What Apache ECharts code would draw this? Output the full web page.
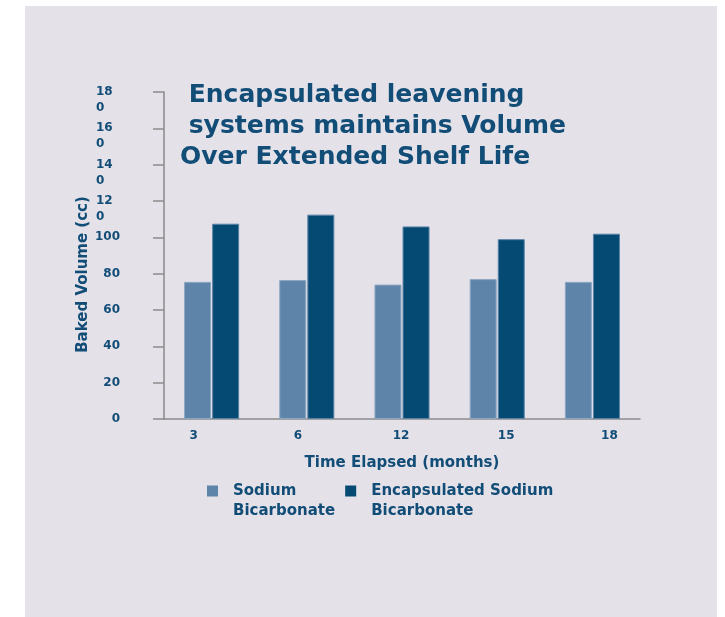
<!DOCTYPE html>
<html>
<head>
<meta charset="utf-8">
<script src="https://cdn.jsdelivr.net/npm/echarts@6/dist/echarts.min.js"></script>
<style>
  html, body { margin: 0; padding: 0; background: #ffffff; }
  #chart { position: absolute; left: 25px; top: 6px; width: 692px; height: 611px; background: #e4e1e9; }
</style>
</head>
<body>
<div id="chart"></div>
<script>
const months = ['3', '6', '12', '15', '18'];
const sodiumBicarb = [75.5, 76.5, 74, 77, 75.5];
const encapsulatedBicarb = [107.5, 112.5, 106, 99, 102];
const seriesNames = ['Sodium Bicarbonate', 'Encapsulated Sodium Bicarbonate'];
const titleLines = [' Encapsulated leavening', ' systems maintains Volume', 'Over Extended Shelf Life'];
const yMax = 180;
const yStep = 20;

// labels under the bars sit a bit wider apart than the categories
const labelShift = [-18, -9, -1, 9, 17];

const textBlue = '#124d77';
const axisGrey = '#8a8a8a';
const font = 'DejaVu Sans';

// three-digit ticks wrap after two digits, first line level with the tick
function wrapTick(v) {
  const s = String(v);
  if (v < 120) return s;
  return '{d| }\n{d|' + s.slice(0, 2) + '}\n{d|' + s.slice(2) + '}';
}

const labelBase = {
  fontFamily: font, fontSize: 12, fontWeight: 'bold', color: textBlue, margin: 44, align: 'right',
  rich: { d: { width: 24, align: 'left', lineHeight: 16, fontFamily: font, fontSize: 12, fontWeight: 'bold', color: textBlue } }
};

const chart = echarts.init(document.getElementById('chart'));
chart.setOption({
  animation: false,
  backgroundColor: 'transparent',
  textStyle: { fontFamily: font },
  title: {
    text: titleLines.join('\n'),
    left: 150,
    top: 69,
    textStyle: { fontFamily: font, fontSize: 25, fontWeight: 'bold', color: textBlue, lineHeight: 31 }
  },
  legend: {
    data: seriesNames,
    left: 177,
    top: 450,
    itemWidth: 11,
    itemHeight: 11,
    itemGap: 10,
    icon: 'rect',
    itemStyle: { borderWidth: 0 },
    // blank first line keeps the icon level with the first text line
    formatter: name => {
      const i = name.lastIndexOf(' ');
      return ' \n' + name.slice(0, i) + '\n' + name.slice(i + 1);
    },
    textStyle: { fontFamily: font, fontSize: 15, fontWeight: 'bold', color: textBlue, lineHeight: 20, padding: [0, 0, 0, 10] }
  },
  grid: { left: 139, right: 77, top: 86, bottom: 198 },
  xAxis: {
    type: 'category',
    data: months.map((m, i) => ({
      value: m,
      textStyle: { padding: labelShift[i] < 0 ? [0, -2 * labelShift[i], 0, 0] : [0, 0, 0, 2 * labelShift[i]] }
    })),
    name: 'Time Elapsed (months)',
    nameLocation: 'middle',
    nameGap: 37,
    nameTextStyle: { fontFamily: font, fontSize: 15, fontWeight: 'bold', color: textBlue },
    axisLine: { lineStyle: { color: axisGrey, width: 1.5 } },
    axisTick: { show: false },
    axisLabel: { fontFamily: font, fontSize: 12, fontWeight: 'bold', color: textBlue, margin: 11 }
  },
  yAxis: [
    {
      type: 'value',
      min: 0,
      max: yMax,
      interval: yStep,
      name: 'Baked Volume (cc)',
      nameLocation: 'middle',
      nameGap: 73,
      nameMoveOverlap: false,
      nameTextStyle: { fontFamily: font, fontSize: 15, fontWeight: 'bold', color: textBlue, padding: [0, 38, 0, 0] },
      axisLine: { show: true, lineStyle: { color: axisGrey, width: 1.5 } },
      axisTick: { show: true, length: 11, lineStyle: { color: axisGrey, width: 1.5 } },
      splitLine: { show: false },
      // top value is labelled by the second axis so the tall labels don't knock each other out
      axisLabel: Object.assign({}, labelBase, { formatter: v => (v === yMax ? '' : wrapTick(v)) })
    },
    {
      type: 'value',
      position: 'left',
      min: 0,
      max: yMax,
      interval: yMax,
      axisLine: { show: false },
      axisTick: { show: false },
      splitLine: { show: false },
      axisLabel: Object.assign({}, labelBase, { formatter: v => (v === yMax ? wrapTick(v) : '') })
    }
  ],
  series: [
    {
      name: seriesNames[0],
      type: 'bar',
      data: sodiumBicarb,
      barWidth: 27,
      barGap: '4%',
      itemStyle: { color: '#5f84a9', borderColor: '#8ea8c3', borderWidth: 1 }
    },
    {
      name: seriesNames[1],
      type: 'bar',
      data: encapsulatedBicarb,
      barWidth: 27,
      barGap: '4%',
      itemStyle: { color: '#044a73', borderColor: '#5b84a7', borderWidth: 1 }
    }
  ]
});
</script>
</body>
</html>
